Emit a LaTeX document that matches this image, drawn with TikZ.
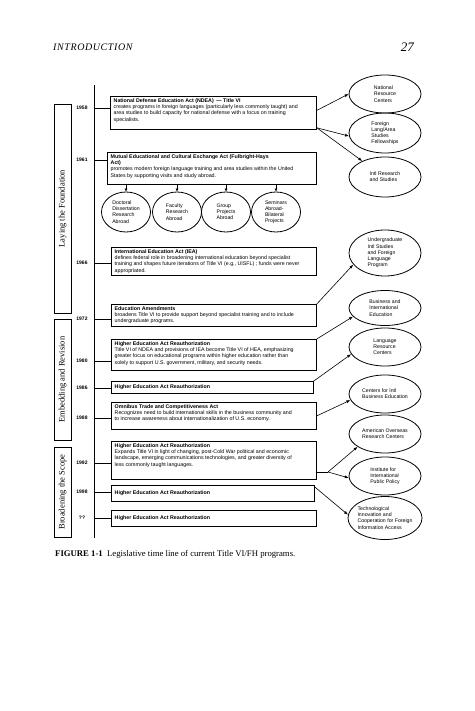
\documentclass[tikz,border=0pt]{standalone}
\usepackage{fontspec}
\setmainfont{Liberation Sans}
\newfontfamily\seriffont{Liberation Serif}
\newfontfamily\hdrfont[LetterSpace=6]{Liberation Serif}
\usetikzlibrary{arrows.meta,shapes.geometric}
\begin{document}
\begin{tikzpicture}[x=1pt,y=-1pt,
  every node/.style={font=\fontsize{5.3}{6.2}\selectfont},
  actbox/.style={draw, line width=0.8pt, rectangle, inner sep=0pt, anchor=north west},
  acttext/.style={anchor=north west, align=left, inner xsep=3.5pt, inner ysep=2.5pt},
  onetext/.style={anchor=west, align=left, inner xsep=3.5pt, inner ysep=0pt},
  year/.style={font=\fontsize{5}{6}\selectfont\bfseries, inner sep=0pt},
  tick/.style={line width=0.8pt},
  ell/.style={draw, ellipse, line width=0.8pt, inner sep=0pt},
  elltext/.style={align=left, inner sep=0pt, font=\fontsize{5.2}{6.2}\selectfont},
  phase/.style={draw, line width=0.8pt, rotate=90, inner sep=0pt, font=\seriffont\fontsize{8.5}{9}\selectfont},
  arr/.style={-{Latex[length=4pt,width=3pt]}, line width=0.6pt},
  sarr/.style={-{Latex[length=3pt,width=3pt]}, line width=0.8pt}
]
\useasboundingbox (0,0) rectangle (474,711);

% header
\node[anchor=base west, inner sep=0pt, font=\hdrfont\itshape\fontsize{10}{12}\selectfont] (hdr) at (53,51) {INTRODUCTION};
\node[anchor=base east, inner sep=0pt, font=\seriffont\itshape\fontsize{13}{14}\selectfont] (pg) at (414,52) {27};

% timeline
\coordinate (tltop) at (94,85);
\coordinate (tlbot) at (94,538);
\draw[line width=0.8pt] (tltop) -- (tlbot);

% phase boxes
\node[phase, minimum width=209pt, minimum height=17pt] (ph1) at (62.5,208.5) {Laying the Foundation};
\node[phase, minimum width=121pt, minimum height=17pt] (ph2) at (62.5,379.5) {Embedding and Revision};
\node[phase, minimum width=90pt, minimum height=17pt] (ph3) at (62.5,492) {Broadening the Scope};

% act boxes
\node[actbox, minimum width=206pt, minimum height=33pt] (ndea) at (110,96) {};
\node[acttext] (ndeat) at (ndea.north west) {\textbf{National Defense Education Act (NDEA)\enspace--- Title VI}\\
creates programs in foreign languages (particularly less commonly taught) and\\
area studies to build capacity for national defense with a focus on training\\
specialists.};

\node[actbox, minimum width=209pt, minimum height=32pt] (mut) at (107,152) {};
\node[acttext] (mutt) at (mut.north west) {\textbf{Mutual Educational and Cultural Exchange Act (Fulbright-Hays}\\
\textbf{Act)}\\
promotes modern foreign language training and area studies within the United\\
States by supporting visits and study abroad.};

\node[actbox, minimum width=205pt, minimum height=28pt] (iea) at (111,247) {};
\node[acttext] (ieat) at (iea.north west) {\textbf{International Education Act (IEA)}\\
defines federal role in broadening international education beyond specialist\\
training and shapes future iterations of Title VI (e.g., UISFL) ; funds were never\\
appropriated.};

\node[actbox, minimum width=205pt, minimum height=22pt] (edam) at (111,304) {};
\node[acttext] (edamt) at (edam.north west) {\textbf{Education Amendments}\\
broadens Title VI to provide support beyond specialist training and to include\\
undergraduate programs.};

\node[actbox, minimum width=205pt, minimum height=31pt] (hea80) at (111,339) {};
\node[acttext] (hea80t) at (hea80.north west) {\textbf{Higher Education Act Reauthorization}\\
Title VI of NDEA and provisions of IEA become Title VI of HEA, emphasizing\\
greater focus on educational programs within higher education rather than\\
solely to support U.S. government, military, and security needs.};

\node[actbox, minimum width=202pt, minimum height=12pt] (hea86) at (111,381) {};
\node[onetext] (hea86t) at (hea86.west) {\textbf{Higher Education Act Reauthorization}};

\node[actbox, minimum width=205pt, minimum height=27pt] (omni) at (111,402) {};
\node[acttext] (omnit) at (omni.north west) {\textbf{Omnibus Trade and Competitiveness Act}\\
Recognizes need to build international skills in the business community and\\
to increase awareness about internationalization of U.S. economy.};

\node[actbox, minimum width=205pt, minimum height=38pt] (hea92) at (111,441) {};
\node[acttext] (hea92t) at (hea92.north west) {\textbf{Higher Education Act Reauthorization}\\
Expands Title VI in light of changing, post-Cold War political and economic\\
landscape, emerging communications technologies, and greater diversity of\\
less commonly taught languages.};

\node[actbox, minimum width=203pt, minimum height=16pt] (hea98) at (111,485) {};
\node[onetext] (hea98t) at (hea98.west) {\textbf{Higher Education Act Reauthorization}};

\node[actbox, minimum width=205pt, minimum height=16pt] (heaq) at (111,510) {};
\node[onetext] (heaqt) at (heaq.west) {\textbf{Higher Education Act Reauthorization}};

% years and ticks
\foreach \yr/\yy/\bx in {1958/108/ndea, 1961/160/mut, 1966/263/iea, 1972/319/edam, 1980/361/hea80, 1986/388/hea86, 1988/418/omni, 1992/463/hea92, 1998/492/hea98, ??/518/heaq}{
  \node[year] (yr\yy) at (82,\yy) {\yr};
  \coordinate (tk\yy) at (94,\yy);
  \draw[tick] (tk\yy) -- (tk\yy -| \bx.west);
}

% small ellipses under Fulbright-Hays
\node[ell, minimum width=49pt, minimum height=40pt] (dd) at (126,212) {};
\node[elltext] (ddt) at (dd) {Doctoral\\Dissertation\\Research\\Abroad};
\node[ell, minimum width=49pt, minimum height=40pt] (fr) at (177,212) {};
\node[elltext] (frt) at (fr) {Faculty\\Research\\Abroad};
\node[ell, minimum width=49pt, minimum height=40pt] (gp) at (226,212) {};
\node[elltext] (gpt) at (gp) {Group\\Projects\\Abroad};
\node[ell, minimum width=49pt, minimum height=40pt] (sa) at (276,212) {};
\node[elltext] (sat) at (sa) {Seminars\\Abroad-\\Bilateral\\Projects};
\foreach \e in {dd,fr,gp,sa}{
  \draw[sarr] (\e.north |- mut.south) -- (\e.north);
}

% right ellipses
\node[ell, minimum width=72pt, minimum height=38pt] (nrc) at (385,94) {};
\node[elltext] (nrct) at (nrc) {National\\Resource\\Centers};
\node[ell, minimum width=72pt, minimum height=40pt] (flas) at (385,133) {};
\node[elltext] (flast) at (flas) {Foreign\\Lang/Area\\Studies\\Fellowships};
\node[ell, minimum width=72pt, minimum height=40pt] (irs) at (385,177) {};
\node[elltext] (irst) at (irs) {Intl Research\\and Studies};
\node[ell, minimum width=72pt, minimum height=46pt] (uis) at (385,253) {};
\node[elltext] (uist) at (uis) {Undergraduate\\Intl Studies\\and Foreign\\Language\\Program};
\node[ell, minimum width=72pt, minimum height=35pt] (bie) at (385,308) {};
\node[elltext] (biet) at (bie) {Business and\\International\\Education};
\node[ell, minimum width=72pt, minimum height=38pt] (lrc) at (385,347) {};
\node[elltext] (lrct) at (lrc) {Language\\Resource\\Centers};
\node[ell, minimum width=72pt, minimum height=38pt] (cibe) at (385,394) {};
\node[elltext] (cibet) at (cibe) {Centers for Intl\\Business Education};
\node[ell, minimum width=72pt, minimum height=38pt] (aorc) at (385,434) {};
\node[elltext] (aorct) at (aorc) {American Overseas\\Research Centers};
\node[ell, minimum width=72pt, minimum height=38pt] (iipp) at (385,476) {};
\node[elltext] (iippt) at (iipp) {Institute for\\International\\Public Policy};
\node[ell, minimum width=74pt, minimum height=43pt] (tic) at (385,518) {};
\node[elltext] (tict) at (tic) {Technological\\Innovation and\\Cooperation for Foreign\\Information Access};

% connectors
\draw[arr] ([yshift=2.5pt]ndea.east) -- (nrc.west);
\draw[arr] ([yshift=2pt]ndea.south east) -- (flas.185);
\draw[arr] ([yshift=2pt]ndea.south east) -- (irs.145);
\draw[arr] (edam.north east) -- (uis.200);
\draw[arr] (hea80.north east) -- (bie.195);
\draw[arr] (hea86.north east) -- (lrc.192);
\draw[arr] (omni.east) -- (cibe.190);
\coordinate (br92) at (328,472);
\draw[line width=0.6pt] (hea92.east |- br92) -- (br92);
\draw[arr] (br92) -- (aorc.205);
\draw[arr] (br92) -- (iipp.183);
\draw[arr] ([yshift=-2pt]hea98.north east) -- (tic.175);

% caption
\node[anchor=base west, inner sep=0pt, font=\seriffont\fontsize{8.7}{10}\selectfont] (cap) at (55,556) {\textbf{FIGURE 1-1}\enspace Legislative time line of current Title VI/FH programs.};
\end{tikzpicture}
\end{document}
